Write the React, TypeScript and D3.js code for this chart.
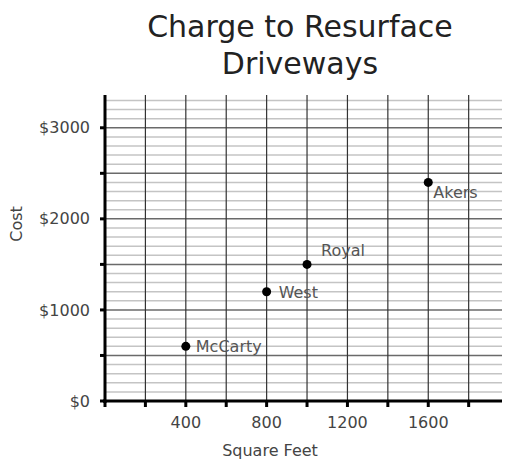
import { FC } from 'react';
import * as d3 from 'd3';

// chart data
const companies = ['McCarty', 'West', 'Royal', 'Akers'];
const squareFeet = [400, 800, 1000, 1600];
const costs = [600, 1200, 1500, 2400];
const xTickLabels = ['400', '800', '1200', '1600'];
const yTickLabels = ['$0', '$1000', '$2000', '$3000'];

// label placement relative to each dot (styling only)
const labelOffsets: Record<string, [number, number]> = {
  McCarty: [10, 6],
  West: [12, 6],
  Royal: [14, -8],
  Akers: [5, 16],
};

const W = 508;
const H = 462;
const font = 'DejaVu Sans, Verdana, sans-serif';

const App: FC = () => {
  const x = d3.scaleLinear().domain([0, 1965]).range([105, 502]);
  const y = d3.scaleLinear().domain([0, 3360]).range([401, 95]);

  const minorY = d3.range(100, 3400, 100).filter(v => v % 500 !== 0);
  const majorY = d3.range(500, 3400, 500);
  const vertX = d3.range(200, 1965, 200);
  const xTicks = d3.range(200, 1965, 200);
  const yTicks = d3.range(500, 3400, 500);

  const [x0, x1] = x.range();
  const [y0, y1] = y.range();

  return (
    <svg width={W} height={H} style={{ position: 'absolute', left: 0, top: 0, background: '#fff' }}>
      <text x={300} y={37} textAnchor="middle" fontFamily={font} fontSize={30} fill="#222">
        Charge to Resurface
      </text>
      <text x={300} y={74} textAnchor="middle" fontFamily={font} fontSize={30} fill="#222">
        Driveways
      </text>

      {/* grid */}
      {minorY.map(v => (
        <line key={'m' + v} x1={x0} x2={x1} y1={y(v)} y2={y(v)} stroke="#c4c4c4" strokeWidth={1.5} />
      ))}
      {majorY.map(v => (
        <line key={'M' + v} x1={x0} x2={x1} y1={y(v)} y2={y(v)} stroke="#6a6a6a" strokeWidth={1.5} />
      ))}
      {vertX.map(v => (
        <line key={'v' + v} x1={x(v)} x2={x(v)} y1={y1} y2={y0} stroke="#333" strokeWidth={1.2} />
      ))}

      {/* axes */}
      <line x1={x0} x2={x0} y1={y1} y2={y0 + 2} stroke="#000" strokeWidth={3} />
      <line x1={x0 - 2} x2={x1} y1={y0} y2={y0} stroke="#000" strokeWidth={3} />
      {[0, ...yTicks].map(v => (
        <line key={'yt' + v} x1={x0 - 5} x2={x0} y1={y(v)} y2={y(v)} stroke="#000" strokeWidth={3} />
      ))}
      {[0, ...xTicks].map(v => (
        <line key={'xt' + v} x1={x(v)} x2={x(v)} y1={y0} y2={y0 + 6} stroke="#000" strokeWidth={3} />
      ))}

      {/* tick labels */}
      {yTickLabels.map((t, i) => (
        <text key={t} x={90} y={y(i * 1000)} dy="0.35em" textAnchor="end" fontFamily={font} fontSize={16} fill="#444">
          {t}
        </text>
      ))}
      {xTickLabels.map(t => (
        <text key={t} x={x(+t)} y={428} textAnchor="middle" fontFamily={font} fontSize={16} fill="#444">
          {t}
        </text>
      ))}

      <text x={270} y={456} textAnchor="middle" fontFamily={font} fontSize={16} fill="#444">
        Square Feet
      </text>
      <text transform="translate(22,224) rotate(-90)" textAnchor="middle" fontFamily={font} fontSize={16} fill="#444">
        Cost
      </text>

      {/* points */}
      {companies.map((c, i) => {
        const cx = x(squareFeet[i]);
        const cy = y(costs[i]);
        const [dx, dy] = labelOffsets[c];
        return (
          <g key={c}>
            <circle cx={cx} cy={cy} r={4.5} fill="#000" />
            <text x={cx + dx} y={cy + dy} fontFamily={font} fontSize={16} fill="#555">
              {c}
            </text>
          </g>
        );
      })}
    </svg>
  );
};

export default App;
